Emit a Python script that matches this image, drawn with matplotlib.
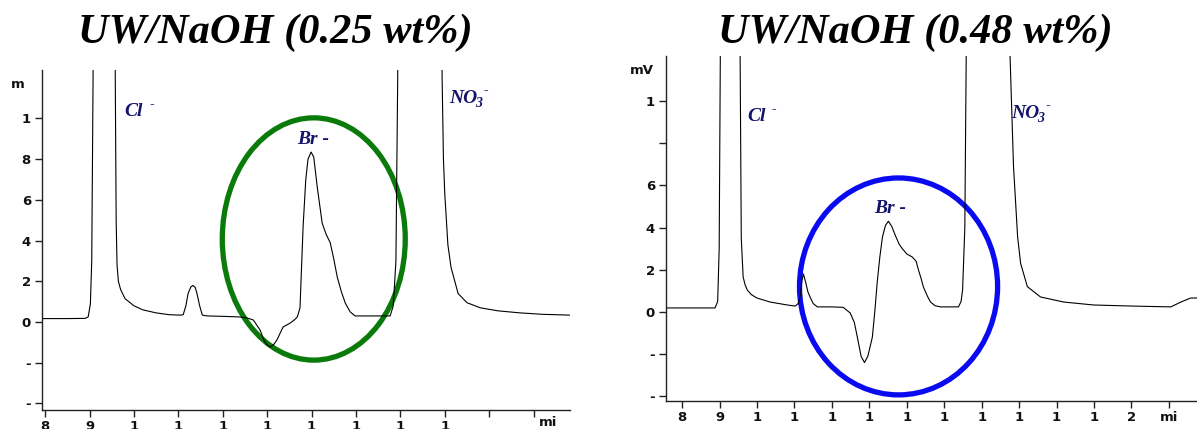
import matplotlib
matplotlib.use("Agg")
import matplotlib.pyplot as plt
from matplotlib.patches import Ellipse

# ---- data: left chromatogram (UW/NaOH 0.25 wt%) ----
t_left = [7.93, 8.5, 8.9, 8.97, 9.02, 9.05, 9.08, 9.12, 9.35, 9.55, 9.58, 9.6, 9.62, 9.65,
          9.7, 9.8, 10.0, 10.2, 10.5, 10.8, 11.05, 11.11, 11.17, 11.22, 11.28, 11.33, 11.38,
          11.42, 11.48, 11.54, 11.65, 12.0, 12.39, 12.55, 12.69, 12.84, 12.93, 13.0, 13.07,
          13.15, 13.22, 13.36, 13.52, 13.62, 13.68, 13.74, 13.81, 13.87, 13.92, 13.99, 14.05,
          14.13, 14.24, 14.33, 14.42, 14.5, 14.58, 14.67, 14.76, 14.87, 14.98, 15.3, 15.77,
          15.84, 15.9, 15.94, 15.97, 16.0, 16.5, 16.9, 16.94, 16.97, 17.0, 17.07, 17.14, 17.3,
          17.5, 17.8, 18.2, 18.7, 19.2, 19.82]
s_left = [0.17, 0.17, 0.18, 0.25, 0.9, 3.0, 12.0, 40.0, 60.0, 40.0, 12.0, 5.0, 2.8, 2.0,
          1.6, 1.15, 0.8, 0.6, 0.45, 0.36, 0.34, 0.36, 0.8, 1.4, 1.72, 1.8, 1.7,
          1.4, 0.8, 0.34, 0.3, 0.28, 0.25, 0.2, 0.1, -0.39, -0.9, -1.13, -1.23,
          -1.1, -0.88, -0.24, -0.05, 0.12, 0.25, 0.7, 4.7, 7.0, 8.0, 8.35, 8.1,
          6.6, 4.85, 4.3, 3.9, 3.1, 2.2, 1.5, 0.93, 0.5, 0.3, 0.3, 0.3,
          0.8, 3.0, 12.0, 40.0, 60.0, 60.0, 40.0, 12.0, 8.0, 6.3, 3.8, 2.7, 1.4,
          0.95, 0.7, 0.55, 0.45, 0.38, 0.34]

# ---- data: right chromatogram (UW/NaOH 0.48 wt%) ----
t_right = [7.57, 8.88, 8.95, 8.99, 9.02, 9.05, 9.3, 9.52, 9.55, 9.58, 9.63, 9.68, 9.74,
           9.85, 10.0, 10.35, 10.81, 11.02, 11.1, 11.16, 11.2, 11.24, 11.3, 11.36, 11.42,
           11.5, 11.61, 12.0, 12.3, 12.49, 12.6, 12.68, 12.78, 12.87, 12.96, 13.08, 13.15,
           13.21, 13.28, 13.35, 13.43, 13.51, 13.6, 13.7, 13.8, 13.88, 14.0, 14.15, 14.25,
           14.31, 14.38, 14.44, 14.55, 14.63, 14.75, 14.9, 15.38, 15.45, 15.49, 15.55, 15.6,
           15.65, 16.2, 16.72, 16.76, 16.85, 16.96, 17.04, 17.22, 17.57, 18.19, 18.99, 20.0,
           21.05, 21.32, 21.58, 21.75]
s_right = [0.19, 0.19, 0.5, 3.0, 12.0, 40.0, 60.0, 40.0, 12.0, 3.5, 1.66, 1.3, 1.04,
           0.82, 0.66, 0.47, 0.33, 0.28, 0.4, 0.8, 1.5, 1.8, 1.4, 0.95, 0.7,
           0.4, 0.24, 0.24, 0.22, -0.05, -0.5, -1.2, -2.1, -2.4, -2.1, -1.2, 0.1,
           1.4, 2.6, 3.55, 4.1, 4.3, 4.05, 3.6, 3.2, 3.0, 2.75, 2.6, 2.4,
           2.0, 1.6, 1.2, 0.75, 0.48, 0.3, 0.24, 0.24, 0.5, 1.04, 4.0, 15.0,
           40.0, 60.0, 40.0, 12.0, 6.9, 3.55, 2.3, 1.2, 0.71, 0.47, 0.33, 0.28,
           0.24, 0.47, 0.66, 0.66]

# ---- tick labels ----
left_xticks = list(range(8, 20))
left_xlabels = ["8", "9", "1", "1", "1", "1", "1", "1", "1", "1", "", ""]
left_yticks = [10, 8, 6, 4, 2, 0, -2, -4]
left_ylabels = ["1", "8", "6", "4", "2", "0", "-", "-"]

right_xticks = list(range(8, 22))
right_xlabels = ["8", "9", "1", "1", "1", "1", "1", "1", "1", "1", "1", "1", "2", "mi"]
right_yticks = [10, 8, 6, 4, 2, 0, -2, -4]
right_ylabels = ["1", "", "6", "4", "2", "0", "-", "-"]

titles = ["UW/NaOH (0.25 wt%)", "UW/NaOH (0.48 wt%)"]

W, H = 1197, 429
fig = plt.figure(figsize=(W / 100, H / 100), dpi=100)

def fx(px):
    return px / W

def fy(py):
    return 1 - py / H

axL = fig.add_axes([fx(42), fy(410), fx(570 - 42), (410 - 70) / H])
axR = fig.add_axes([fx(666), fy(401), fx(1197 - 666), (401 - 56) / H])

label_color = "#14146b"
serif = ["Liberation Serif", "DejaVu Serif"]

def style(ax, xt, xl, yt, yl):
    for s in ["top", "right"]:
        ax.spines[s].set_visible(False)
    for s in ["left", "bottom"]:
        ax.spines[s].set_linewidth(1.0)
        ax.spines[s].set_color("#222222")
    ax.set_xticks(xt)
    ax.set_xticklabels(xl)
    ax.set_yticks(yt)
    ax.set_yticklabels(yl)
    ax.tick_params(axis="both", direction="out", length=5, width=1, color="#222222",
                   labelsize=9.5, pad=3)
    ax.tick_params(axis="x", pad=2)
    for lab in ax.get_xticklabels() + ax.get_yticklabels():
        lab.set_fontweight("bold")
        lab.set_color("#111111")

axL.plot(t_left, s_left, color="black", lw=0.8)
axL.set_xlim(7.93, 19.82)
axL.set_ylim(-4.32, 12.38)
style(axL, left_xticks, left_xlabels, left_yticks, left_ylabels)
axL.add_patch(Ellipse((14.05, 4.08), 4.12, 11.9, fill=False, edgecolor="#0a7a0a", lw=3.8))

axR.plot(t_right, s_right, color="black", lw=0.8)
axR.set_xlim(7.57, 21.75)
axR.set_ylim(-4.22, 12.13)
style(axR, right_xticks, right_xlabels, right_yticks, right_ylabels)
axR.add_patch(Ellipse((13.78, 1.21), 5.29, 10.28, fill=False, edgecolor="#0a0af0", lw=3.8))

# unit labels
fig.text(fx(18), fy(85), "m", fontsize=9.5, fontweight="bold", ha="center", va="center",
         color="#111111")
fig.text(fx(548), fy(422), "mi", fontsize=9.5, fontweight="bold", ha="center", va="center",
         color="#111111")
fig.text(fx(642), fy(70), "mV", fontsize=9.5, fontweight="bold", ha="center", va="center",
         color="#111111")

# titles
fig.text(fx(275), fy(33), titles[0], fontsize=30.5, fontweight="bold", fontstyle="italic",
         family=serif, ha="center", va="center")
fig.text(fx(915), fy(33), titles[1], fontsize=30.5, fontweight="bold", fontstyle="italic",
         family=serif, ha="center", va="center")

kw_main = dict(fontweight="bold", fontstyle="italic", family=serif, color=label_color)

def txt(px, py, s, size=14, italic=True):
    d = dict(kw_main)
    if not italic:
        d["fontstyle"] = "normal"
    fig.text(fx(px), fy(py), s, fontsize=size, ha="left", va="baseline", **d)

# Cl- labels
txt(124, 116, "Cl")
txt(150, 108, "-", size=10, italic=False)
txt(747, 121, "Cl")
txt(771, 113, "-", size=10, italic=False)
# Br- labels
txt(297, 144, "Br -")
txt(874, 213, "Br -")
# NO3- labels
txt(449, 103, "NO")
txt(475, 107, "3", size=10)
txt(484, 94, "-", size=10, italic=False)
txt(1011, 118, "NO")
txt(1037, 122, "3", size=10)
txt(1046, 109, "-", size=10, italic=False)

fig.savefig("out.png", dpi=100)
